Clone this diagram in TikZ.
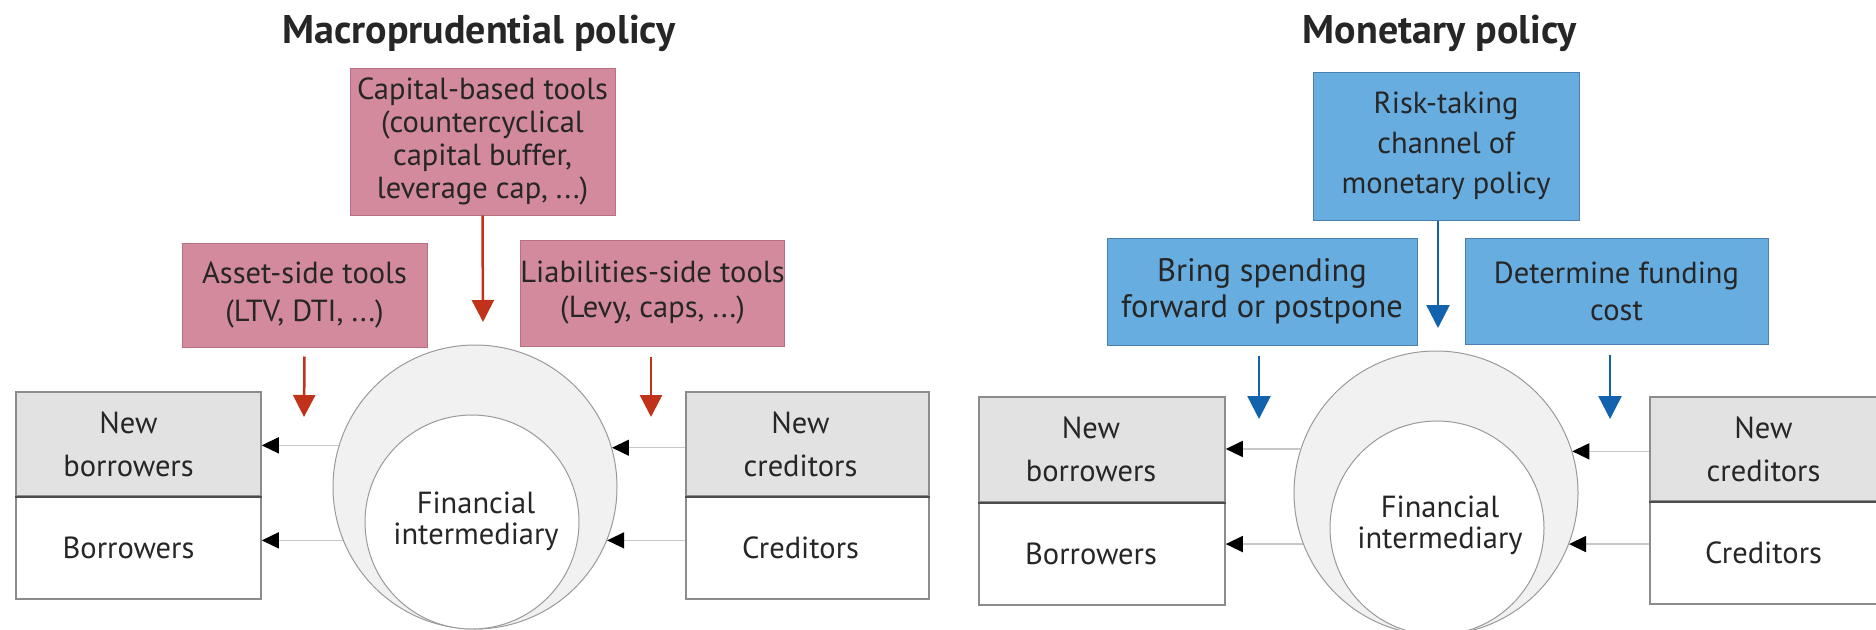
\documentclass[tikz,border=0pt]{standalone}
\usepackage{fontspec}
\setmainfont{PT Sans}
\usetikzlibrary{arrows.meta,calc}

\definecolor{pinkfill}{HTML}{D48A9D}
\definecolor{pinkedge}{HTML}{B7707F}
\definecolor{bluefill}{HTML}{67ADE0}
\definecolor{blueedge}{HTML}{4A7FAF}
\definecolor{redarrow}{HTML}{C0321A}
\definecolor{bluearrow}{HTML}{1262AE}
\definecolor{greyfill}{HTML}{E2E2E2}
\definecolor{greyedge}{HTML}{8C8C8C}
\definecolor{ringfill}{HTML}{F1F1F1}
\definecolor{ringedge}{HTML}{9A9A9A}
\definecolor{linkgrey}{HTML}{C8C8C8}
\definecolor{ink}{HTML}{262626}

\tikzset{
  title/.style={anchor=base, text=ink, font=\fontsize{40}{44}\selectfont\bfseries},
  txt/.style={text=ink, align=center, inner sep=0pt},
  sized/.style 2 args={minimum width=#1, minimum height=#2},
  pinkbox/.style={txt, draw=pinkedge, fill=pinkfill, line width=1pt},
  bluebox/.style={txt, draw=blueedge, fill=bluefill, line width=1pt},
  agentnew/.style={draw=greyedge, fill=greyfill, line width=1.5pt, inner sep=0pt},
  agentold/.style={draw=greyedge, fill=white, line width=1.5pt, inner sep=0pt},
  agenttext/.style={txt, font=\fontsize{30.5}{43}\selectfont},
  divider/.style={draw=black!70, line width=2.5pt},
  ring/.style={circle, draw=ringedge, fill=ringfill, line width=1pt, inner sep=0pt},
  core/.style={circle, draw=ringedge, fill=white, line width=1pt, inner sep=0pt},
  redpush/.style={draw=redarrow, line width=2.5pt,
    -{Triangle[length=22pt,width=22pt,color=redarrow]}},
  bluepush/.style={draw=bluearrow, line width=2.5pt,
    -{Triangle[length=23pt,width=23pt,color=bluearrow]}},
  link/.style={draw=linkgrey, line width=1.5pt,
    -{Triangle[length=17pt,width=16pt,color=black]}},
}

\begin{document}
\begin{tikzpicture}[x=1pt,y=-1pt]
\useasboundingbox (0,0) rectangle (1876,629);
\clip (0,0) rectangle (1876,629);

% ---------------- Macroprudential policy ----------------
\node[title] (tmacro) at (479,43) {Macroprudential policy};

\node[pinkbox, sized={265pt}{147pt}, font=\fontsize{30.5}{33}\selectfont]
  (cap) at (482.5,141.5)
  {Capital-based tools\\(countercyclical\\capital buffer,\\leverage cap, ...)};
\node[pinkbox, sized={245pt}{104pt}, font=\fontsize{30.5}{38}\selectfont]
  (asset) at (304.5,295) {Asset-side tools\\(LTV, DTI, ...)};
\node[pinkbox, sized={261pt}{106pt}, font=\fontsize{30.5}{35}\selectfont]
  (liab) at (652.5,293) {Liabilities-side tools\\(Levy, caps, ...)};

\coordinate (capT) at (483,322);
\coordinate (assetT) at (304,417);
\coordinate (liabT) at (651,417);
\draw[redpush] (cap.south) -- (capT);
\draw[redpush] ([yshift=-9pt]asset.south) -- (assetT);
\draw[redpush] ([yshift=-10pt]liab.south -| liabT) -- (liabT);

\node[agentnew, sized={245pt}{104pt}] (nbL) at (138.5,444) {};
\node[agentold, sized={245pt}{103pt}] (bL) at (138.5,547.5) {};
\draw[divider] (nbL.south west) -- (nbL.south east);
\node[agenttext] (nbLt) at ([xshift=-10pt]nbL.center) {New\\borrowers};
\node[agenttext] (bLt) at ([xshift=-10pt]bL.center) {Borrowers};

\node[agentnew, sized={243pt}{104pt}] (ncL) at (807.5,444) {};
\node[agentold, sized={243pt}{103pt}] (cL) at (807.5,547.5) {};
\draw[divider] (ncL.south west) -- (ncL.south east);
\node[agenttext] (ncLt) at ([xshift=-7pt]ncL.center) {New\\creditors};
\node[agenttext] (cLt) at ([xshift=-7pt]cL.center) {Creditors};

\node[ring, minimum size=284pt] (outerL) at (475,487) {};
\node[core, minimum size=214pt] (innerL) at (472,522) {};
\node[txt, font=\fontsize{30.5}{31}\selectfont] (fiL) at (476,521)
  {Financial\\intermediary};

\draw[link] (outerL.163.2) -- (nbL.east |- outerL.163.2);
\draw[link] (outerL.202.8) -- (bL.east |- outerL.202.8);
\draw[link] (ncL.west |- outerL.16.8) -- (outerL.16.8);
\draw[link] (cL.west |- outerL.-22.8) -- (outerL.-22.8);

% ---------------- Monetary policy ----------------
\node[title] (tmon) at (1440,43) {Monetary policy};

\node[bluebox, sized={266pt}{148pt}, font=\fontsize{30.5}{40}\selectfont]
  (risk) at (1446,146) {Risk-taking\\channel of\\monetary policy};
\node[bluebox, sized={310pt}{107pt}, font=\fontsize{32.5}{36}\selectfont]
  (bring) at (1262,291.5) {Bring spending\\forward or postpone};
\node[bluebox, sized={303pt}{106pt}, font=\fontsize{30.5}{37}\selectfont]
  (fund) at (1616.5,291) {Determine funding\\cost};

\coordinate (riskT) at (1438,328);
\coordinate (bringT) at (1259,419);
\coordinate (fundT) at (1610,419);
\draw[bluepush] (risk.south -| riskT) -- (riskT);
\draw[bluepush] ([yshift=-10pt]bring.south -| bringT) -- (bringT);
\draw[bluepush] ([yshift=-10pt]fund.south -| fundT) -- (fundT);

\node[agentnew, sized={246pt}{105pt}] (nbR) at (1102,449.5) {};
\node[agentold, sized={246pt}{103pt}] (bR) at (1102,553.5) {};
\draw[divider] (nbR.south west) -- (nbR.south east);
\node[agenttext] (nbRt) at ([xshift=-11pt]nbR.center) {New\\borrowers};
\node[agenttext] (bRt) at ([xshift=-11pt]bR.center) {Borrowers};

\node[agentnew, sized={245pt}{104pt}] (ncR) at (1772.5,449) {};
\node[agentold, sized={245pt}{103pt}] (cR) at (1772.5,552.5) {};
\draw[divider] (ncR.south west) -- (ncR.south east);
\node[agenttext] (ncRt) at ([xshift=-9pt]ncR.center) {New\\creditors};
\node[agenttext] (cRt) at ([xshift=-9pt]cR.center) {Creditors};

\node[ring, minimum size=284pt] (outerR) at (1436,493) {};
\node[core, minimum size=214pt] (innerR) at (1437,528) {};
\node[txt, font=\fontsize{30.5}{31}\selectfont] (fiR) at (1440,525)
  {Financial\\intermediary};

\draw[link] (outerR.162.4) -- (nbR.east |- outerR.162.4);
\draw[link] (outerR.201.9) -- (bR.east |- outerR.201.9);
\draw[link] (ncR.west |- outerR.17.6) -- (outerR.17.6);
\draw[link] (cR.west |- outerR.-21.9) -- (outerR.-21.9);
\end{tikzpicture}
\end{document}
